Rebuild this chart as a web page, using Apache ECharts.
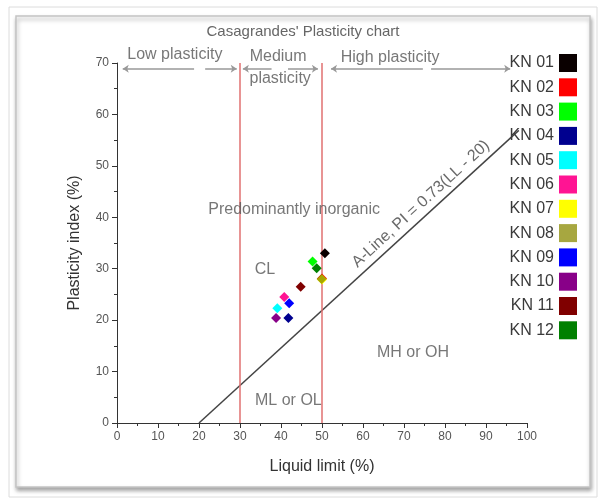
<!DOCTYPE html>
<html>
<head>
<meta charset="utf-8">
<script src="https://cdn.jsdelivr.net/npm/echarts@6/dist/echarts.min.js"></script>
<style>
  html, body { margin: 0; padding: 0; background: #fff; }
  #chart { width: 598px; height: 499px; }
</style>
</head>
<body>
<div id="chart"></div>
<script>
// samples: [liquid limit, plasticity index]
const sampleNames = ["KN 01", "KN 02", "KN 03", "KN 04", "KN 05", "KN 06",
  "KN 07", "KN 08", "KN 09", "KN 10", "KN 11", "KN 12"];
const sampleColors = ["#0a0000", "#ff0000", "#00ff00", "#00008f", "#00ffff", "#ff1493",
  "#ffff00", "#8a8a00", "#0000ff", "#880088", "#800000", "#008000"];
const samplePoints = [
  [50.7, 33.0], [50.0, 28.1], [47.7, 31.4], [41.8, 20.4], [39.1, 22.3], [40.8, 24.5],
  [50.0, 27.9], [49.9, 28.0], [42.0, 23.3], [38.8, 20.4], [44.8, 26.5], [48.7, 30.1]
];

// A-line PI = 0.73(LL - 20)
const aLine = [[20, 0], [98, 56.9]];
const boundaryLL = [30, 50];
const xTicks = { min: 0, max: 100, step: 10 };
const yTicks = { min: 0, max: 70, step: 10 };

// arrow segments along the top [fromLL, toLL, arrowAt]
const arrowY = 68.9;
const arrowSegs = [
  [1.4, 18.8, "start"], [21.5, 29.2, "end"],
  [30.7, 37.7, "start"], [41.7, 49.0, "end"],
  [52.2, 74.6, "start"], [76.6, 95.9, "end"]
];

// zone labels [LL, PI, text]
const zoneLabels = [
  [14.1, 71.6, "Low plasticity"],
  [39.3, 71.2, "Medium"],
  [39.8, 66.9, "plasticity"],
  [66.6, 71.0, "High plasticity"],
  [43.2, 41.4, "Predominantly inorganic"],
  [36.1, 29.8, "CL"],
  [72.2, 13.6, "MH or OH"],
  [41.8, 4.3, "ML or OL"]
];
const aLineLabel = [74.1, 42.6, "A-Line, PI = 0.73(LL - 20)"];

const chart = echarts.init(document.getElementById("chart"));

const sampleSeries = sampleNames.map((n, i) => ({
  name: n,
  type: "scatter",
  symbol: "diamond",
  symbolSize: 10,
  itemStyle: { color: sampleColors[i], opacity: n === "KN 08" ? 0.75 : 1 },
  data: [samplePoints[i]],
  z: 5
}));

const arrowData = arrowSegs.map(s => ({
  coords: [[s[0], arrowY], [s[1], arrowY]],
  symbol: s[2] === "start" ? ["arrow", "none"] : ["none", "arrow"]
}));

chart.setOption({
  animation: false,
  textStyle: { fontFamily: "Liberation Sans, Arial, sans-serif" },
  title: {
    text: "Casagrandes' Plasticity chart",
    left: 298, textAlign: "center", top: 19,
    textStyle: { fontSize: 15, fontWeight: "normal", color: "#666" }
  },
  graphic: [
    { type: "rect", shape: { x: 9, y: 7, width: 588, height: 490 },
      style: { fill: "none", stroke: "#dcdcdc", lineWidth: 1 }, z: -10 },
    { type: "rect", shape: { x: 16, y: 16, width: 574, height: 471 },
      style: { fill: "#fff", stroke: "#c4c4c4", lineWidth: 1.5,
        shadowBlur: 4, shadowOffsetX: 1, shadowOffsetY: 3, shadowColor: "rgba(0,0,0,0.35)" }, z: -9 }
  ],
  legend: {
    data: sampleNames,
    orient: "vertical",
    right: 16, top: 49,
    align: "right",
    icon: "rect",
    itemWidth: 18, itemHeight: 18, itemGap: 6.3,
    selectedMode: false,
    textStyle: { fontSize: 16, color: "#3a3a3a" }
  },
  grid: { left: 117, right: 71, top: 63, bottom: 76 },
  xAxis: {
    type: "value", min: xTicks.min, max: xTicks.max, interval: xTicks.step,
    name: "Liquid limit (%)", nameLocation: "middle", nameGap: 36,
    nameTextStyle: { fontSize: 16, color: "#333" },
    axisLine: { show: true, lineStyle: { color: "#333" } },
    axisTick: { show: true, length: 5, lineStyle: { color: "#333" } },
    minorTick: { show: true, splitNumber: 2, length: 3, lineStyle: { color: "#333" } },
    axisLabel: { fontSize: 12, color: "#555", margin: 8 },
    splitLine: { show: false }
  },
  yAxis: {
    type: "value", min: yTicks.min, max: yTicks.max, interval: yTicks.step,
    name: "Plasticity index (%)", nameLocation: "middle", nameGap: 34,
    nameTextStyle: { fontSize: 16, color: "#333" },
    axisLine: { show: true, lineStyle: { color: "#333" } },
    axisTick: { show: true, length: 5, lineStyle: { color: "#333" } },
    minorTick: { show: true, splitNumber: 2, length: 3, lineStyle: { color: "#333" } },
    axisLabel: { fontSize: 12, color: "#555", margin: 8 },
    splitLine: { show: false }
  },
  series: [
    {
      type: "line", data: aLine, symbol: "none", silent: true,
      lineStyle: { color: "#444", width: 1.5 }, z: 2
    },
    ...boundaryLL.map(v => ({
      type: "line", data: [[v, yTicks.min], [v, yTicks.max]], symbol: "none", silent: true,
      lineStyle: { color: "#e07070", width: 1.5 }, z: 2
    })),
    {
      type: "lines", coordinateSystem: "cartesian2d", silent: true,
      symbolSize: 6, lineStyle: { color: "#999", width: 1.5, opacity: 1 },
      data: arrowData, z: 2
    },
    {
      type: "scatter", symbolSize: 0, silent: true, clip: false,
      data: zoneLabels,
      label: {
        show: true, position: "inside", formatter: p => p.data[2],
        fontSize: 16, color: "#555"
      }, z: 3
    },
    {
      type: "scatter", symbolSize: 0, silent: true, clip: false,
      data: [aLineLabel],
      label: {
        show: true, position: "inside", rotate: 42.5, formatter: p => p.data[2],
        fontSize: 16, color: "#444"
      }, z: 3
    },
    ...sampleSeries
  ]
});
</script>
</body>
</html>
